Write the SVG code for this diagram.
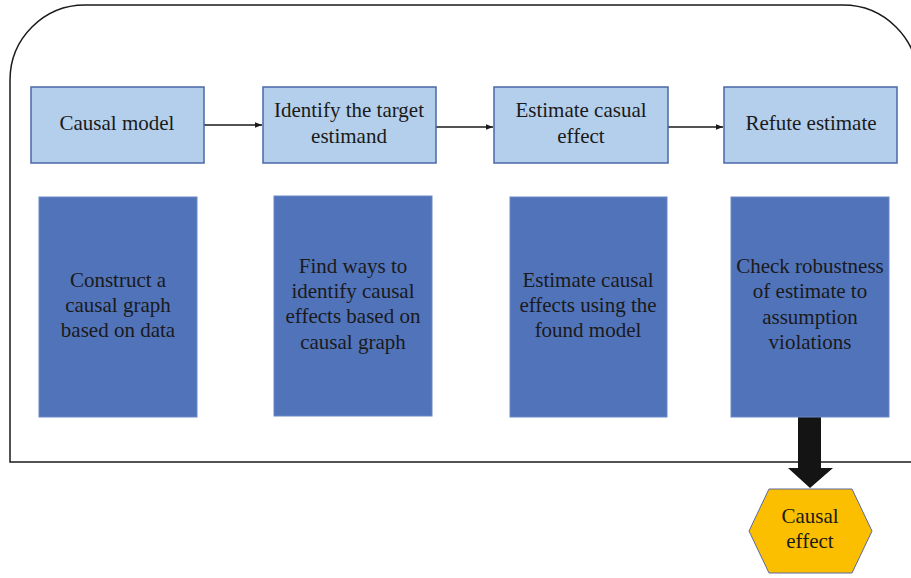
<svg xmlns="http://www.w3.org/2000/svg" width="911" height="578" viewBox="0 0 911 578">
<style>
text{font-family:"Liberation Serif","Times New Roman",serif;font-size:21px;fill:#1a1a1a;text-anchor:middle}
.lb{fill:#b4cfeb;stroke:#4a67a8;stroke-width:1.5}
.db{fill:#5173ba;stroke:#6a88c8;stroke-width:1}
.ln{stroke:#1a1a1a;stroke-width:1.3;fill:none}
</style>
<defs>
<marker id="ah" viewBox="0 0 10 10" refX="10" refY="5" markerWidth="7" markerHeight="7" markerUnits="userSpaceOnUse" orient="auto"><path d="M0,1 L10,5 L0,9 Z" fill="#1a1a1a"/></marker>
</defs>
<path id="frame" d="M10,462 V80 A75,75 0 0 1 85,5 H843 A75,75 0 0 1 918,80 V462 Z" fill="none" stroke="#1a1a1a" stroke-width="1.5"/>
<g id="connectors">
<line class="ln" x1="204" y1="125" x2="262" y2="125" marker-end="url(#ah)"/>
<line class="ln" x1="436" y1="127" x2="493" y2="127" marker-end="url(#ah)"/>
<line class="ln" x1="668" y1="127" x2="723" y2="127" marker-end="url(#ah)"/>
<path d="M798,417 H821 V468 H833 L810,488 L788,468 H798 Z" fill="#141414"/>
</g>
<g id="n1"><rect class="lb" x="31" y="87" width="173" height="76"/><text x="117" y="130">Causal model</text></g>
<g id="n2"><rect class="lb" x="263" y="87" width="173" height="76"/><text x="349" y="117">Identify the target</text><text x="349" y="143">estimand</text></g>
<g id="n3"><rect class="lb" x="494" y="87" width="174" height="76"/><text x="581" y="117">Estimate casual</text><text x="581" y="143">effect</text></g>
<g id="n4"><rect class="lb" x="724" y="87" width="173" height="76"/><text x="811" y="130">Refute estimate</text></g>
<g id="d1"><rect class="db" x="39" y="197" width="158" height="220"/><text x="118" y="287">Construct a</text><text x="118" y="312">causal graph</text><text x="118" y="337">based on data</text></g>
<g id="d2"><rect class="db" x="274" y="196" width="158" height="220"/><text x="353" y="273">Find ways to</text><text x="353" y="298">identify causal</text><text x="353" y="323">effects based on</text><text x="353" y="349">causal graph</text></g>
<g id="d3"><rect class="db" x="510" y="197" width="157" height="220"/><text x="588" y="287">Estimate causal</text><text x="588" y="312">effects using the</text><text x="588" y="337">found model</text></g>
<g id="d4"><rect class="db" x="731" y="197" width="158" height="220"/><text x="810" y="273">Check robustness</text><text x="810" y="298">of estimate to</text><text x="810" y="324">assumption</text><text x="810" y="349">violations</text></g>
<g id="out"><polygon points="749,531 769,489 852,489 872,531 852,573 769,573" fill="#fbbf00" stroke="#5a6aa0" stroke-width="1"/><text x="810" y="523">Causal</text><text x="810" y="548">effect</text></g>
</svg>
